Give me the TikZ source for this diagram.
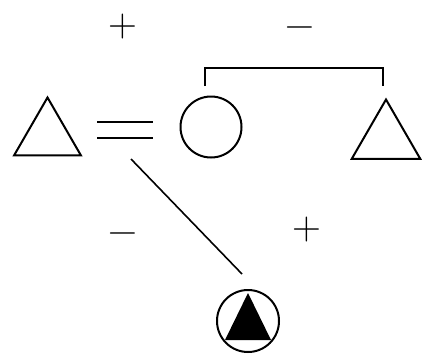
\documentclass[tikz,border=0pt]{standalone}
\usepackage{fontspec}
\usetikzlibrary{shapes.geometric,calc}
\begin{document}
\begin{tikzpicture}[x=1pt,y=-1pt,
  shapeline/.style={draw=black,line width=2pt},
  tri/.style={shapeline,regular polygon,regular polygon sides=3,inner sep=0pt},
  ring/.style={shapeline,circle,inner sep=0pt},
  sign/.style={inner sep=0pt,font=\fontsize{40}{40}\selectfont},
  link/.style={draw=black,line width=1.6pt},
  bond/.style={draw=black,line width=2.8pt}]
\useasboundingbox (0,0) rectangle (422,354);
\fill[white] (0,0) rectangle (422,354);
% shapes
\node[tri,minimum size=77pt] (lt) at (47.5,136) {};
\node[ring,minimum size=61pt] (c) at (211,127) {};
\node[tri,minimum size=79pt] (rt) at (386,139) {};
\node[ring,minimum size=62pt] (bc) at (248,321) {};
\fill[black] ($(bc.center)+(0,-28)$) -- ($(bc.center)+(23,19)$) -- ($(bc.center)+(-23,19)$) -- cycle;
% marriage sign
\coordinate (e1a) at (97,122); \coordinate (e1b) at (153,122);
\coordinate (e2a) at (97,138); \coordinate (e2b) at (153,138);
\draw[bond] (e1a) -- (e1b);
\draw[bond] (e2a) -- (e2b);
% sibling bracket
\coordinate (bl) at (205,86); \coordinate (br) at (383,86);
\draw[shapeline] (bl) -- (205,68) -- (383,68) -- (br);
% descent line
\coordinate (d1) at (131,159); \coordinate (d2) at (242,274);
\draw[link] (d1) -- (d2);
% signs
\node[sign] (p1) at (123,27) {+};
\node[sign] (m1) at (300,32) {−};
\node[sign] (m2) at (123,238) {−};
\node[sign] (p2) at (307,230) {+};
\end{tikzpicture}
\end{document}
